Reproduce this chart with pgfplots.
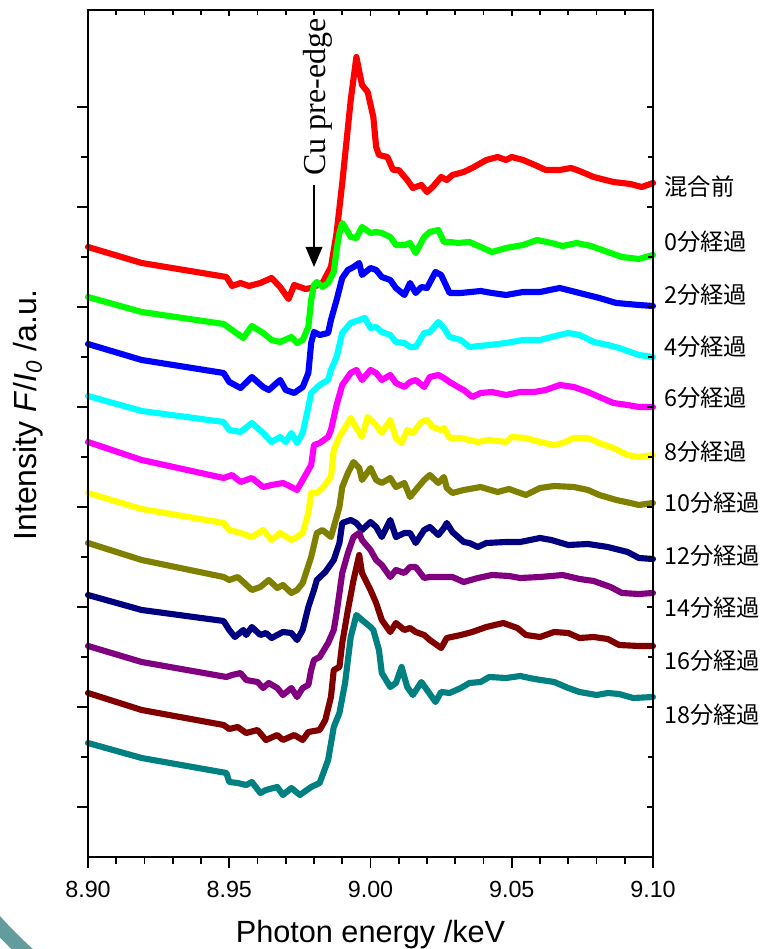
\documentclass[border=0pt]{standalone}
\usepackage{fontspec}
\setmainfont{Liberation Sans}
\newfontfamily\cjk{Noto Sans CJK JP}
\newfontfamily\tnr{Liberation Serif}
\usepackage{pgfplots}
\pgfplotsset{compat=1.18}
\usetikzlibrary{arrows.meta}
\definecolor{cRed}{RGB}{255,0,0}
\definecolor{cGreen}{RGB}{0,255,0}
\definecolor{cBlue}{RGB}{0,0,255}
\definecolor{cCyan}{RGB}{0,255,255}
\definecolor{cMag}{RGB}{255,0,255}
\definecolor{cYel}{RGB}{255,255,0}
\definecolor{cOlive}{RGB}{128,128,0}
\definecolor{cNavy}{RGB}{0,0,128}
\definecolor{cPurple}{RGB}{128,0,128}
\definecolor{cMaroon}{RGB}{128,0,0}
\definecolor{cTeal}{RGB}{0,128,128}
\definecolor{deco}{RGB}{98,156,156}
\begin{document}
\begin{tikzpicture}
\begin{axis}[
  name=main,
  scale only axis,
  width=423.75pt, height=635.25pt,
  xmin=8.90, xmax=9.10, ymin=1.43, ymax=9.90,
  clip=false,
  axis line style={line width=1.5pt},
  tick align=outside,
  xtick pos=left, ytick pos=left,
  xtick={8.90,8.95,9.00,9.05,9.10},
  xticklabels={8.90,8.95,9.00,9.05,9.10},
  minor x tick num=4,
  ytick={1.93,2.93,3.93,4.93,5.93,6.93,7.93,8.93},
  yticklabels={},
  minor y tick num=1,
  major tick length=8.5pt,
  minor tick length=5pt,
  every tick/.style={line width=1.4pt, black},
  tick label style={font=\fontsize{17.5}{20}\selectfont},
  xticklabel style={yshift=-6pt},
  xlabel={Photon energy /keV},
  xlabel style={at={(axis description cs:0.5,-0.1015)}, anchor=base, font=\fontsize{23}{26}\selectfont},
  ylabel={Intensity \textit{F}/\textit{I}\textsubscript{\textit{0}} /a.u.},
  ylabel style={at={(axis description cs:-0.0903,0.522)}, anchor=base, rotate=0, font=\fontsize{24}{27}\selectfont},
  every axis plot/.append style={line width=4.6pt, line join=round, line cap=round},
]
% 混合前
\addplot[cRed] coordinates {(8.900,7.53)(8.919,7.37)(8.949,7.23)(8.951,7.14)(8.954,7.17)(8.957,7.14)(8.961,7.17)(8.965,7.22)(8.968,7.13)(8.971,7.01)(8.973,7.15)(8.977,7.11)(8.979,7.12)(8.983,7.17)(8.986,7.33)(8.988,7.67)(8.990,8.17)(8.993,9.00)(8.995,9.43)(8.997,9.15)(8.999,9.08)(9.001,8.83)(9.002,8.53)(9.003,8.45)(9.006,8.43)(9.008,8.30)(9.010,8.30)(9.013,8.20)(9.015,8.12)(9.018,8.15)(9.020,8.08)(9.022,8.13)(9.025,8.23)(9.027,8.20)(9.029,8.25)(9.033,8.28)(9.036,8.32)(9.041,8.40)(9.045,8.43)(9.048,8.40)(9.050,8.43)(9.054,8.40)(9.059,8.34)(9.062,8.30)(9.067,8.30)(9.071,8.32)(9.074,8.29)(9.079,8.23)(9.086,8.18)(9.092,8.16)(9.096,8.13)(9.100,8.17)};
% 0分経過
\addplot[cGreen] coordinates {(8.900,7.03)(8.919,6.88)(8.948,6.76)(8.951,6.70)(8.955,6.62)(8.958,6.74)(8.962,6.67)(8.965,6.60)(8.968,6.58)(8.972,6.63)(8.974,6.57)(8.976,6.60)(8.978,6.73)(8.979,7.00)(8.980,7.15)(8.981,7.18)(8.983,7.13)(8.985,7.17)(8.987,7.28)(8.988,7.50)(8.989,7.67)(8.990,7.77)(8.992,7.68)(8.993,7.63)(8.995,7.62)(8.997,7.73)(9.000,7.67)(9.002,7.68)(9.004,7.67)(9.007,7.63)(9.009,7.55)(9.012,7.55)(9.014,7.57)(9.016,7.47)(9.019,7.63)(9.021,7.68)(9.024,7.70)(9.026,7.58)(9.028,7.58)(9.031,7.57)(9.035,7.58)(9.039,7.53)(9.043,7.48)(9.048,7.52)(9.054,7.55)(9.059,7.60)(9.064,7.57)(9.068,7.54)(9.073,7.57)(9.078,7.54)(9.084,7.48)(9.089,7.43)(9.095,7.41)(9.100,7.45)};
% 2分経過
\addplot[cBlue] coordinates {(8.900,6.56)(8.919,6.40)(8.948,6.27)(8.950,6.18)(8.954,6.12)(8.958,6.23)(8.962,6.13)(8.964,6.10)(8.968,6.20)(8.970,6.10)(8.973,6.07)(8.976,6.13)(8.978,6.27)(8.979,6.57)(8.980,6.68)(8.982,6.65)(8.985,6.67)(8.986,6.80)(8.988,7.00)(8.990,7.22)(8.992,7.30)(8.994,7.33)(8.996,7.37)(8.997,7.25)(9.000,7.32)(9.002,7.30)(9.004,7.23)(9.007,7.20)(9.009,7.12)(9.012,7.05)(9.014,7.17)(9.016,7.07)(9.018,7.13)(9.020,7.12)(9.023,7.28)(9.025,7.25)(9.027,7.13)(9.028,7.07)(9.032,7.07)(9.039,7.09)(9.043,7.07)(9.048,7.05)(9.054,7.08)(9.060,7.08)(9.067,7.12)(9.074,7.07)(9.081,7.02)(9.087,6.97)(9.095,6.95)(9.100,6.94)};
% 4分経過
\addplot[cCyan] coordinates {(8.900,6.04)(8.919,5.89)(8.948,5.78)(8.950,5.70)(8.954,5.68)(8.958,5.77)(8.962,5.67)(8.965,5.58)(8.968,5.63)(8.970,5.58)(8.972,5.67)(8.974,5.57)(8.976,5.67)(8.978,5.93)(8.979,6.07)(8.982,6.15)(8.985,6.20)(8.986,6.30)(8.988,6.43)(8.990,6.67)(8.993,6.77)(8.996,6.80)(8.998,6.82)(9.000,6.72)(9.002,6.73)(9.004,6.68)(9.007,6.65)(9.009,6.58)(9.012,6.57)(9.014,6.53)(9.016,6.53)(9.019,6.67)(9.021,6.68)(9.024,6.78)(9.026,6.72)(9.028,6.63)(9.032,6.60)(9.035,6.53)(9.042,6.55)(9.048,6.57)(9.054,6.60)(9.060,6.60)(9.064,6.63)(9.070,6.67)(9.074,6.65)(9.079,6.58)(9.084,6.55)(9.088,6.52)(9.095,6.45)(9.100,6.43)};
% 6分経過
\addplot[cMag] coordinates {(8.900,5.58)(8.919,5.40)(8.948,5.22)(8.951,5.25)(8.954,5.18)(8.958,5.22)(8.962,5.13)(8.965,5.15)(8.969,5.17)(8.972,5.13)(8.974,5.10)(8.976,5.20)(8.979,5.35)(8.980,5.55)(8.982,5.57)(8.985,5.63)(8.986,5.70)(8.988,5.95)(8.990,6.15)(8.993,6.27)(8.995,6.30)(8.997,6.20)(9.000,6.30)(9.002,6.27)(9.004,6.20)(9.007,6.25)(9.009,6.17)(9.012,6.13)(9.014,6.18)(9.016,6.20)(9.019,6.13)(9.021,6.23)(9.024,6.25)(9.026,6.22)(9.028,6.18)(9.031,6.13)(9.033,6.10)(9.036,6.03)(9.039,6.07)(9.043,6.08)(9.048,6.05)(9.053,6.08)(9.058,6.08)(9.062,6.10)(9.067,6.15)(9.072,6.13)(9.077,6.08)(9.081,6.03)(9.086,5.97)(9.091,5.95)(9.095,5.93)(9.100,5.93)};
% 8分経過
\addplot[cYel] coordinates {(8.900,5.07)(8.919,4.91)(8.948,4.77)(8.950,4.70)(8.954,4.67)(8.958,4.63)(8.962,4.70)(8.965,4.60)(8.968,4.67)(8.972,4.60)(8.974,4.63)(8.976,4.67)(8.978,4.87)(8.979,5.07)(8.981,5.07)(8.983,5.12)(8.986,5.23)(8.987,5.50)(8.989,5.63)(8.992,5.77)(8.993,5.82)(8.995,5.72)(8.997,5.63)(8.999,5.83)(9.002,5.75)(9.004,5.67)(9.007,5.80)(9.009,5.62)(9.011,5.57)(9.013,5.70)(9.015,5.67)(9.018,5.78)(9.020,5.80)(9.022,5.73)(9.025,5.70)(9.026,5.72)(9.028,5.62)(9.032,5.62)(9.035,5.60)(9.038,5.58)(9.042,5.60)(9.048,5.58)(9.050,5.63)(9.055,5.62)(9.060,5.58)(9.065,5.55)(9.068,5.57)(9.072,5.62)(9.077,5.62)(9.081,5.57)(9.086,5.52)(9.091,5.45)(9.095,5.43)(9.100,5.45)};
% 10分経過
\addplot[cOlive] coordinates {(8.900,4.57)(8.919,4.40)(8.948,4.23)(8.950,4.20)(8.953,4.23)(8.955,4.18)(8.958,4.10)(8.961,4.13)(8.964,4.20)(8.967,4.12)(8.969,4.15)(8.972,4.07)(8.974,4.10)(8.976,4.17)(8.979,4.43)(8.981,4.67)(8.983,4.70)(8.986,4.63)(8.987,4.73)(8.989,4.93)(8.990,5.13)(8.992,5.27)(8.994,5.38)(8.996,5.32)(8.997,5.20)(9.000,5.32)(9.002,5.20)(9.004,5.17)(9.007,5.22)(9.009,5.13)(9.012,5.17)(9.014,5.03)(9.016,5.10)(9.019,5.20)(9.021,5.25)(9.024,5.17)(9.026,5.23)(9.027,5.12)(9.029,5.07)(9.033,5.10)(9.039,5.13)(9.045,5.08)(9.049,5.11)(9.055,5.05)(9.060,5.12)(9.065,5.14)(9.072,5.13)(9.077,5.10)(9.081,5.05)(9.087,5.00)(9.092,4.97)(9.095,4.95)(9.100,4.97)};
% 12分経過
\addplot[cNavy] coordinates {(8.900,4.05)(8.919,3.90)(8.948,3.79)(8.950,3.70)(8.952,3.63)(8.955,3.70)(8.956,3.65)(8.958,3.73)(8.961,3.65)(8.963,3.67)(8.965,3.62)(8.969,3.68)(8.972,3.67)(8.974,3.60)(8.976,3.70)(8.978,3.93)(8.980,4.10)(8.981,4.20)(8.984,4.28)(8.987,4.40)(8.989,4.57)(8.990,4.77)(8.993,4.80)(8.995,4.77)(8.997,4.70)(9.000,4.78)(9.002,4.73)(9.004,4.63)(9.007,4.80)(9.009,4.63)(9.012,4.67)(9.014,4.67)(9.016,4.57)(9.019,4.70)(9.021,4.73)(9.024,4.65)(9.026,4.72)(9.027,4.77)(9.029,4.68)(9.033,4.58)(9.035,4.57)(9.038,4.53)(9.041,4.57)(9.048,4.58)(9.053,4.58)(9.060,4.62)(9.064,4.60)(9.070,4.55)(9.077,4.56)(9.084,4.53)(9.091,4.48)(9.095,4.42)(9.100,4.41)};
% 14分経過
\addplot[cPurple] coordinates {(8.900,3.54)(8.919,3.38)(8.949,3.23)(8.951,3.25)(8.954,3.27)(8.956,3.20)(8.960,3.18)(8.962,3.12)(8.964,3.17)(8.967,3.12)(8.969,3.05)(8.972,3.12)(8.974,3.03)(8.976,3.12)(8.978,3.15)(8.979,3.30)(8.980,3.40)(8.982,3.43)(8.985,3.57)(8.987,3.70)(8.988,3.87)(8.989,4.07)(8.990,4.27)(8.992,4.47)(8.994,4.63)(8.996,4.67)(8.997,4.60)(9.000,4.50)(9.002,4.40)(9.004,4.35)(9.007,4.23)(9.009,4.30)(9.012,4.27)(9.014,4.33)(9.016,4.33)(9.019,4.22)(9.021,4.23)(9.026,4.23)(9.029,4.23)(9.033,4.18)(9.038,4.22)(9.043,4.25)(9.049,4.24)(9.053,4.22)(9.060,4.23)(9.068,4.25)(9.074,4.21)(9.079,4.19)(9.085,4.13)(9.089,4.07)(9.095,4.06)(9.100,4.07)};
% 16分経過
\addplot[cMaroon] coordinates {(8.900,3.07)(8.919,2.90)(8.948,2.75)(8.950,2.71)(8.953,2.73)(8.956,2.67)(8.960,2.70)(8.963,2.60)(8.967,2.65)(8.969,2.60)(8.973,2.65)(8.976,2.60)(8.978,2.68)(8.982,2.70)(8.984,2.80)(8.986,3.03)(8.987,3.30)(8.989,3.33)(8.990,3.57)(8.992,3.90)(8.994,4.20)(8.996,4.45)(8.997,4.27)(9.000,4.10)(9.002,3.97)(9.004,3.80)(9.007,3.68)(9.009,3.77)(9.012,3.70)(9.014,3.72)(9.016,3.68)(9.019,3.65)(9.021,3.60)(9.025,3.52)(9.027,3.62)(9.032,3.65)(9.036,3.68)(9.041,3.73)(9.047,3.77)(9.052,3.72)(9.055,3.65)(9.060,3.63)(9.065,3.68)(9.070,3.67)(9.074,3.62)(9.079,3.63)(9.084,3.61)(9.088,3.55)(9.095,3.54)(9.100,3.54)};
% 18分経過
\addplot[cTeal] coordinates {(8.900,2.57)(8.919,2.42)(8.949,2.27)(8.950,2.18)(8.953,2.17)(8.956,2.15)(8.958,2.18)(8.961,2.07)(8.963,2.10)(8.967,2.13)(8.969,2.05)(8.972,2.12)(8.975,2.05)(8.979,2.13)(8.982,2.17)(8.985,2.40)(8.987,2.73)(8.989,2.87)(8.991,3.17)(8.993,3.63)(8.995,3.85)(8.997,3.80)(9.000,3.73)(9.001,3.70)(9.003,3.50)(9.004,3.27)(9.007,3.13)(9.009,3.17)(9.011,3.33)(9.013,3.13)(9.015,3.05)(9.018,3.18)(9.020,3.10)(9.023,2.98)(9.025,3.08)(9.028,3.07)(9.032,3.12)(9.035,3.17)(9.039,3.18)(9.042,3.23)(9.048,3.22)(9.053,3.24)(9.058,3.21)(9.065,3.18)(9.070,3.12)(9.074,3.08)(9.080,3.05)(9.084,3.07)(9.088,3.06)(9.093,3.02)(9.100,3.03)};
% labels
\begin{scope}[every node/.style={anchor=west, xshift=5pt, font=\cjk\fontsize{17.5}{20}\selectfont}]
\node at (axis cs:9.10,8.13) {混合前};
\node at (axis cs:9.10,7.58) {0分経過};
\node at (axis cs:9.10,7.05) {2分経過};
\node at (axis cs:9.10,6.53) {4分経過};
\node at (axis cs:9.10,6.02) {6分経過};
\node at (axis cs:9.10,5.48) {8分経過};
\node at (axis cs:9.10,4.97) {10分経過};
\node at (axis cs:9.10,4.44) {12分経過};
\node at (axis cs:9.10,3.92) {14分経過};
\node at (axis cs:9.10,3.39) {16分経過};
\node at (axis cs:9.10,2.85) {18分経過};
\end{scope}
\node[rotate=90, anchor=base, font=\tnr\fontsize{24}{28}\selectfont] at (axis cs:8.9842,9.03) {Cu pre-edge};
\draw[line width=1.1pt, -{Triangle[width=12.5pt,length=15pt]}] (axis cs:8.980,8.15) -- (axis cs:8.980,7.33);
\end{axis}
\begin{axis}[
  at={(main.south west)}, anchor=south west,
  scale only axis,
  width=423.75pt, height=635.25pt,
  xmin=8.90, xmax=9.10, ymin=1.43, ymax=9.90,
  axis line style={line width=1.5pt},
  tick align=inside,
  xtick pos=right, ytick pos=right,
  xtick={8.90,8.95,9.00,9.05,9.10},
  minor x tick num=4,
  ytick={1.93,2.93,3.93,4.93,5.93,6.93,7.93,8.93},
  minor y tick num=1,
  xticklabels={}, yticklabels={},
  major tick length=4.5pt,
  minor tick length=4pt,
  every tick/.style={line width=1.2pt, black},
]
\end{axis}
\draw[deco, line width=11pt] ([shift={(181.5pt,177.75pt)}]main.south west) ++(212:338pt) arc[start angle=212, end angle=245, radius=338pt];
\pgfresetboundingbox
\path[use as bounding box] ([xshift=-66pt,yshift=-69pt]main.south west) rectangle ++(574.5pt,711.75pt);
\end{tikzpicture}
\end{document}
